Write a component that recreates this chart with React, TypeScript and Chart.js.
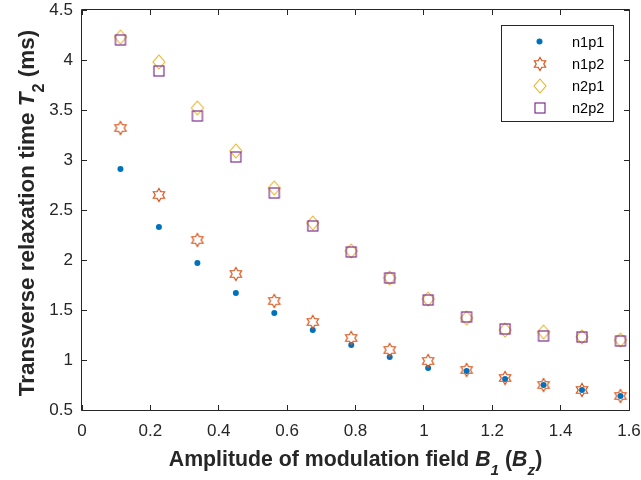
import React, { useEffect, useRef } from "react";
import { Chart, registerables } from "chart.js";
Chart.register(...registerables);

// ---- data ----
const B1 = [0.1125, 0.225, 0.3375, 0.45, 0.5625, 0.675, 0.7875, 0.9, 1.0125, 1.125, 1.2375, 1.35, 1.4625, 1.575];
const n1p1 = [2.91, 2.33, 1.97, 1.67, 1.47, 1.30, 1.15, 1.03, 0.92, 0.89, 0.81, 0.75, 0.70, 0.64];
const n1p2 = [3.32, 2.65, 2.20, 1.86, 1.59, 1.38, 1.22, 1.10, 0.99, 0.90, 0.82, 0.75, 0.70, 0.64];
const n2p1 = [4.23, 3.98, 3.52, 3.09, 2.72, 2.37, 2.09, 1.82, 1.61, 1.42, 1.30, 1.28, 1.23, 1.20];
const n2p2 = [4.20, 3.89, 3.44, 3.03, 2.67, 2.34, 2.08, 1.82, 1.60, 1.43, 1.31, 1.24, 1.23, 1.19];
const seriesNames = ["n1p1", "n1p2", "n2p1", "n2p2"];
const xTicks = [0, 0.2, 0.4, 0.6, 0.8, 1, 1.2, 1.4, 1.6];
const yTicks = [0.5, 1, 1.5, 2, 2.5, 3, 3.5, 4, 4.5];

const AX = "#262626";
const FONT = '"Liberation Sans", Arial, Helvetica, sans-serif';
const COLORS = ["#0072BD", "#D95319", "#EDB120", "#7E2F8E"];

function makeCanvas(w: number, h: number, draw: (c: CanvasRenderingContext2D) => void) {
  const c = document.createElement("canvas");
  c.width = w;
  c.height = h;
  const ctx = c.getContext("2d")!;
  draw(ctx);
  return c;
}

function hexagram(color: string) {
  return makeCanvas(16, 16, (ctx) => {
    const cx = 8, cy = 8, R = 6.5, r = R / Math.sqrt(3);
    ctx.beginPath();
    for (let i = 0; i < 12; i++) {
      const a = -Math.PI / 2 + (i * Math.PI) / 6;
      const rad = i % 2 === 0 ? R : r;
      const px = cx + rad * Math.cos(a), py = cy + rad * Math.sin(a);
      if (i === 0) ctx.moveTo(px, py); else ctx.lineTo(px, py);
    }
    ctx.closePath();
    ctx.strokeStyle = color;
    ctx.lineWidth = 1.2;
    ctx.stroke();
  });
}
function diamond(color: string) {
  return makeCanvas(16, 18, (ctx) => {
    ctx.beginPath();
    ctx.moveTo(8, 2);
    ctx.lineTo(14, 9);
    ctx.lineTo(8, 16);
    ctx.lineTo(2, 9);
    ctx.closePath();
    ctx.strokeStyle = color;
    ctx.lineWidth = 1.1;
    ctx.stroke();
  });
}
function square(color: string) {
  return makeCanvas(14, 14, (ctx) => {
    ctx.strokeStyle = color;
    ctx.lineWidth = 1.2;
    ctx.strokeRect(2, 2, 10, 10);
  });
}

type Seg = { t: string; it?: boolean; sub?: boolean };
const xTitle: Seg[] = [
  { t: "Amplitude of modulation field " },
  { t: "B", it: true },
  { t: "1", it: true, sub: true },
  { t: " (" },
  { t: "B", it: true },
  { t: "z", it: true, sub: true },
  { t: ")" },
];
const yTitle: Seg[] = [
  { t: "Transverse relaxation time " },
  { t: "T", it: true },
  { t: "2", sub: true },
  { t: " (ms)" },
];

function drawRich(ctx: CanvasRenderingContext2D, segs: Seg[], cx: number, baseline: number, size: number) {
  const sub = size * 0.72;
  const fontOf = (s: Seg) => `${s.it ? "italic " : ""}bold ${s.sub ? sub : size}px ${FONT}`;
  let total = 0;
  const widths = segs.map((s) => {
    ctx.font = fontOf(s);
    const w = ctx.measureText(s.t).width;
    total += w;
    return w;
  });
  let x = cx - total / 2;
  ctx.textAlign = "left";
  ctx.textBaseline = "alphabetic";
  segs.forEach((s, i) => {
    ctx.font = fontOf(s);
    ctx.fillText(s.t, x, baseline + (s.sub ? size * 0.43 : 0));
    x += widths[i];
  });
}

export default function App() {
  const ref = useRef<HTMLCanvasElement>(null);
  useEffect(() => {
    const styles = [null, hexagram(COLORS[1]), diamond(COLORS[2]), square(COLORS[3])];
    const series = [n1p1, n1p2, n2p1, n2p2];

    const decor = {
      id: "decor",
      afterDraw(chart: any) {
        const { ctx, chartArea } = chart;
        const xs = chart.scales.x, ys = chart.scales.y;
        const L = Math.round(chartArea.left) - 0.5;
        const R = Math.round(chartArea.right) + 0.5;
        const T = Math.round(chartArea.top) - 0.5;
        const B = Math.round(chartArea.bottom) + 0.5;
        ctx.save();
        ctx.strokeStyle = AX;
        ctx.lineWidth = 1;
        ctx.beginPath();
        ctx.rect(L, T, R - L, B - T);
        const tl = 5.5;
        xTicks.forEach((v) => {
          const p = Math.floor(xs.getPixelForValue(v)) + 0.5;
          ctx.moveTo(p, B); ctx.lineTo(p, B - tl);
          ctx.moveTo(p, T); ctx.lineTo(p, T + tl);
        });
        yTicks.forEach((v) => {
          const p = Math.floor(ys.getPixelForValue(v)) + 0.5;
          ctx.moveTo(L, p); ctx.lineTo(L + tl, p);
          ctx.moveTo(R, p); ctx.lineTo(R - tl, p);
        });
        ctx.stroke();

        // axis titles
        ctx.fillStyle = AX;
        const cxp = (chartArea.left + chartArea.right) / 2;
        drawRich(ctx, xTitle, cxp, 466, 21.3);
        ctx.save();
        ctx.translate(34, 213);
        ctx.rotate(-Math.PI / 2);
        drawRich(ctx, yTitle, 0, 0, 22.5);
        ctx.restore();

        // legend
        const lx = 501.5, ly = 25.5, lw = 112, lh = 96;
        ctx.fillStyle = "#ffffff";
        ctx.fillRect(lx, ly, lw, lh);
        ctx.strokeStyle = AX;
        ctx.strokeRect(lx, ly, lw, lh);
        ctx.font = `14.5px ${FONT}`;
        ctx.textAlign = "left";
        ctx.textBaseline = "middle";
        seriesNames.forEach((name, i) => {
          const ry = 41.5 + i * 22;
          const mx = 539.5;
          const st = styles[i];
          if (st) {
            ctx.drawImage(st, Math.round(mx - st.width / 2), Math.round(ry - st.height / 2));
          } else {
            ctx.beginPath();
            ctx.fillStyle = COLORS[0];
            ctx.arc(mx, ry, 3, 0, Math.PI * 2);
            ctx.fill();
          }
          ctx.fillStyle = "#000000";
          ctx.fillText(name, 572, ry + 1);
        });
        ctx.restore();
      },
    };

    const chart = new Chart(ref.current!, {
      type: "scatter",
      data: {
        datasets: seriesNames.map((name, i) => ({
          label: name,
          data: B1.map((x, k) => ({ x, y: series[i][k] })),
          showLine: false,
          pointStyle: (styles[i] as any) || "circle",
          pointRadius: i === 0 ? 3 : 6,
          backgroundColor: COLORS[i],
          borderColor: COLORS[i],
          borderWidth: 0,
          order: 4 - i,
        })),
      },
      options: {
        responsive: false,
        animation: false,
        devicePixelRatio: 1,
        layout: { padding: { top: 10, right: 12, left: 0, bottom: 0 } },
        plugins: { legend: { display: false }, tooltip: { enabled: false }, title: { display: false } },
        scales: {
          x: {
            type: "linear",
            min: 0,
            max: 1.6,
            grid: { display: false, drawTicks: false },
            border: { display: false },
            afterBuildTicks: (s: any) => { s.ticks = xTicks.map((v) => ({ value: v })); },
            afterFit: (s: any) => { s.height = 70; s.paddingLeft = 0; s.paddingRight = 0; },
            ticks: {
              padding: 11,
              color: AX,
              font: { family: FONT, size: 17 },
              maxRotation: 0,
              autoSkip: false,
              callback: (v: any) => String(v),
            },
          },
          y: {
            type: "linear",
            min: 0.5,
            max: 4.5,
            grid: { display: false, drawTicks: false },
            border: { display: false },
            afterBuildTicks: (s: any) => { s.ticks = yTicks.map((v) => ({ value: v })); },
            afterFit: (s: any) => { s.width = 82; s.paddingTop = 0; s.paddingBottom = 0; },
            ticks: {
              padding: 9,
              color: AX,
              font: { family: FONT, size: 17 },
              autoSkip: false,
              callback: (v: any) => String(v),
            },
          },
        },
      } as any,
      plugins: [decor],
    });
    return () => chart.destroy();
  }, []);

  return (
    <div style={{ position: "absolute", left: 0, top: 0, width: 641, height: 480, background: "#fff" }}>
      <canvas ref={ref} width={641} height={480} style={{ display: "block" }} />
    </div>
  );
}
